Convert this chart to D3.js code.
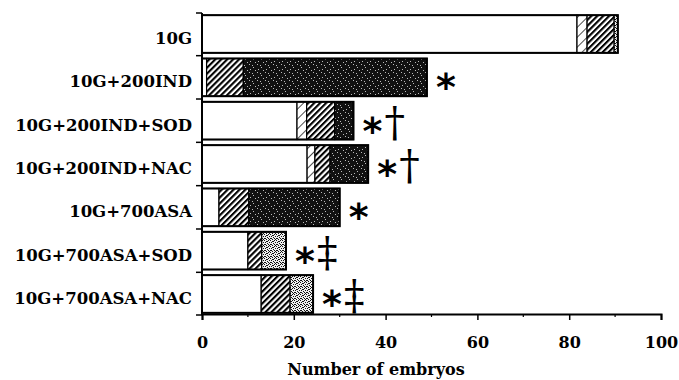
<!DOCTYPE html>
<html><head><meta charset="utf-8">
<script src="https://cdn.jsdelivr.net/npm/d3@7"></script>
<style>html,body{margin:0;padding:0;background:#fff;}svg{display:block;}</style>
</head><body><svg id="c" width="679" height="380"></svg>
<script>
const categories = ["10G","10G+200IND","10G+200IND+SOD","10G+200IND+NAC","10G+700ASA","10G+700ASA+SOD","10G+700ASA+NAC"];
const normal       = [81.7, 1.0, 20.7, 22.9, 3.7, 10.0, 12.9];
const sparseHatch  = [2.2, 0, 2.1, 1.7, 0, 0, 0];
const denseHatch   = [5.9, 8.0, 6.1, 3.3, 6.5, 3.0, 6.3];
const darkStipple  = [0, 40.0, 4.1, 8.3, 19.8, 0, 0];
const lightStipple = [0.8, 0, 0, 0, 0, 5.3, 5.0];
const stars   = ["", "*", "*", "*", "*", "*", "*"];
const marks   = ["", "", "†", "†", "", "‡", "‡"];
const xTicks = [0, 20, 40, 60, 80, 100];
const xMinorTicks = [10, 30, 50, 70, 90];
const xLabel = "Number of embryos";

const series = [
  {key: "normal", values: normal, fill: "#fff"},
  {key: "sparseHatch", values: sparseHatch, fill: "url(#sparse)"},
  {key: "denseHatch", values: denseHatch, fill: "url(#dense)"},
  {key: "darkStipple", values: darkStipple, fill: "url(#dark)"},
  {key: "lightStipple", values: lightStipple, fill: "url(#light)"}
];
const rows = categories.map((c, i) => {
  const r = {cat: c};
  series.forEach(s => r[s.key] = s.values[i]);
  return r;
});
const stack = d3.stack().keys(series.map(s => s.key))(rows);

const svg = d3.select("#c");
const font = "'DejaVu Serif', serif";
const x = d3.scaleLinear().domain([0, 100]).range([202, 661]);
const y = d3.scaleBand().domain(categories).range([13, 315]).paddingInner(0.13).paddingOuter(0.05);

// patterns
const defs = svg.append("defs");
const ps = defs.append("pattern").attr("id", "sparse").attr("patternUnits", "userSpaceOnUse")
  .attr("width", 7).attr("height", 7).attr("patternTransform", "rotate(45)");
ps.append("rect").attr("width", 7).attr("height", 7).attr("fill", "#fff");
ps.append("line").attr("x1", 0).attr("y1", 0).attr("x2", 0).attr("y2", 7).attr("stroke", "#000").attr("stroke-width", 1.4);
const pd = defs.append("pattern").attr("id", "dense").attr("patternUnits", "userSpaceOnUse")
  .attr("width", 4.2).attr("height", 4.2).attr("patternTransform", "rotate(45)");
pd.append("rect").attr("width", 4.2).attr("height", 4.2).attr("fill", "#fff");
pd.append("rect").attr("x", 0).attr("y", 0).attr("width", 2.1).attr("height", 4.2).attr("fill", "#000");
const darkSpecks = [[1,0],[5,3],[2,5],[7,6],[4,1]];
const pk = defs.append("pattern").attr("id", "dark").attr("patternUnits", "userSpaceOnUse").attr("width", 8).attr("height", 8);
pk.append("rect").attr("width", 8).attr("height", 8).attr("fill", "#111");
darkSpecks.forEach(([a, b]) => pk.append("rect").attr("x", a).attr("y", b).attr("width", 1).attr("height", 1).attr("fill", "#bbb"));
const lightDots = [[0,0],[2,1],[4,0],[1,2],[3,3],[5,2],[0,4],[2,5],[4,4],[5,5],[3,1],[1,4]];
const pl = defs.append("pattern").attr("id", "light").attr("patternUnits", "userSpaceOnUse").attr("width", 6).attr("height", 6);
pl.append("rect").attr("width", 6).attr("height", 6).attr("fill", "#eee");
lightDots.forEach(([a, b]) => pl.append("rect").attr("x", a).attr("y", b).attr("width", 1).attr("height", 1).attr("fill", "#111"));

// bars
stack.forEach((layer, li) => {
  svg.append("g").selectAll("rect").data(layer.filter(d => d[1] - d[0] > 0)).join("rect")
    .attr("x", d => x(d[0])).attr("width", d => x(d[1]) - x(d[0]))
    .attr("y", d => y(d.data.cat)).attr("height", y.bandwidth())
    .attr("fill", series[li].fill).attr("stroke", "#000").attr("stroke-width", 1.2);
});
const totals = rows.map((r, i) => series.reduce((a, s) => a + s.values[i], 0));
svg.append("g").selectAll("rect").data(categories).join("rect")
  .attr("x", x(0)).attr("width", (d, i) => x(totals[i]) - x(0))
  .attr("y", d => y(d)).attr("height", y.bandwidth())
  .attr("fill", "none").attr("stroke", "#000").attr("stroke-width", 2);

// annotations
const ann = svg.append("g");
categories.forEach((c, i) => {
  if (!stars[i]) return;
  const cy = y(c) + y.bandwidth() / 2;
  const x0 = x(totals[i]) + 9;
  ann.append("text").attr("x", x0).attr("y", cy + 23).attr("font-family", "'DejaVu Sans', sans-serif")
    .attr("font-weight", "bold").attr("font-size", 38).text(stars[i]);
  if (marks[i]) {
    ann.append("text").attr("x", x0 + 22).attr("y", cy + 15).attr("font-family", "'DejaVu Serif', serif")
      .attr("font-size", 41).attr("font-weight", "normal").text(marks[i]);
  }
});

// x axis
const xa = svg.append("g").attr("transform", "translate(0,314)")
  .call(d3.axisBottom(x).tickValues(xTicks).tickSize(6).tickFormat(d3.format("d")));
xa.select(".domain").attr("stroke-width", 2);
xa.selectAll(".tick line").attr("stroke-width", 1.5);
xa.selectAll("text").attr("font-family", font).attr("font-weight", "bold").attr("font-size", 16).attr("fill", "#000").attr("dy", "1.55em");
svg.append("g").attr("transform", "translate(0,314)").selectAll("line").data(xMinorTicks).join("line")
  .attr("x1", d => x(d)).attr("x2", d => x(d)).attr("y1", 0).attr("y2", 3).attr("stroke", "#000").attr("stroke-width", 1.2);
svg.append("text").attr("x", 376).attr("y", 375).attr("text-anchor", "middle")
  .attr("font-family", font).attr("font-weight", "bold").attr("font-size", 16).text(xLabel);

// y axis
svg.append("line").attr("x1", 202).attr("x2", 202).attr("y1", 13).attr("y2", 315).attr("stroke", "#000").attr("stroke-width", 2);
const bounds = [13].concat(categories.slice(1).map(c => y(c) - y.step() * y.paddingInner() / 2)).concat([315]);
svg.append("g").selectAll("line").data(bounds).join("line")
  .attr("x1", 196).attr("x2", 202).attr("y1", d => d).attr("y2", d => d).attr("stroke", "#000").attr("stroke-width", 1.5);
svg.append("g").selectAll("text").data(categories).join("text")
  .attr("x", 192).attr("y", d => y(d) + y.bandwidth() / 2 + 10)
  .attr("text-anchor", "end").attr("font-family", font).attr("font-weight", "bold").attr("font-size", 16.5).text(d => d);
</script></body></html>
